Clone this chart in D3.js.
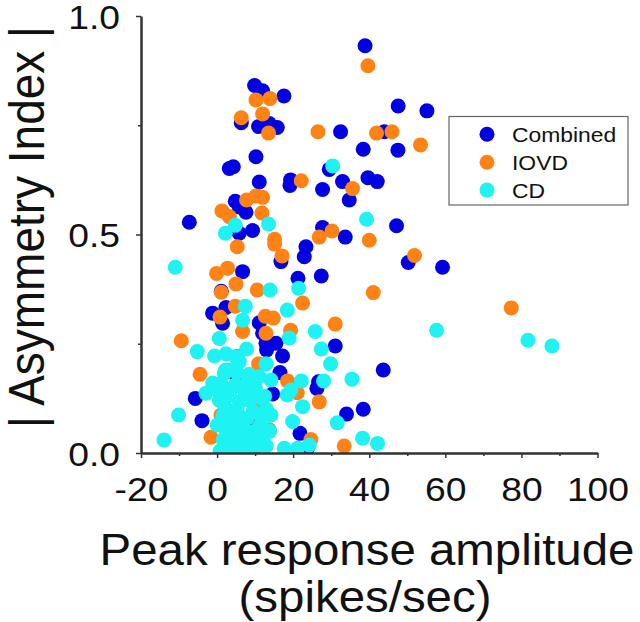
<!DOCTYPE html>
<html><head><meta charset="utf-8">
<script src="https://cdn.jsdelivr.net/npm/d3@7"></script>
<style>body{margin:0;background:#fff}svg{display:block}text{font-family:"Liberation Sans",Arial,sans-serif;fill:#111}</style>
</head><body>
<svg id="c" width="640" height="622"></svg>
<script>
const seriesNames = ["Combined", "IOVD", "CD"];
const seriesColors = ["#0000e0", "#ff8214", "#1ef2f2"];
const xTicks = [-20, 0, 20, 40, 60, 80, 100];
const xMinorTicks = [-10, 10, 30, 50, 70, 90];
const yTicks = [0.0, 0.5, 1.0];
const yMinorTicks = [0.25, 0.75];

const combinedX = [38.9,9.86,11.96,17.58,6.36,10.9,13.72,15.82,32.46,38.42,10.22,3.21,4.26,29.49,39.66,42.1,11.09,19.32,19.16,27.73,32.98,34.74,4.78,7.6,-7.3,9.33,27.73,33.69,47.6,55.16,43.94,47.54,47.17,5.83,23.36,22.92,16.79,6.7,21.26,27.39,1.1,2.34,-1.18,1.45,11.09,12.85,15.48,13.01,31.06,17.21,5.23,43.68,16.53,26.68,26.25,14.59,-5.73,38.42,34.03,-3.97,10.22,21.79,50.25,59.26,1.9,4.97,23.7,5.83,11.96];
const combinedY = [0.932,0.841,0.829,0.817,0.756,0.747,0.754,0.745,0.735,0.695,0.678,0.651,0.655,0.649,0.630,0.621,0.620,0.625,0.612,0.603,0.621,0.579,0.576,0.551,0.528,0.509,0.516,0.494,0.794,0.783,0.735,0.693,0.520,0.503,0.472,0.449,0.438,0.415,0.400,0.405,0.37,0.333,0.320,0.297,0.298,0.251,0.251,0.236,0.245,0.222,0.220,0.190,0.184,0.163,0.148,0.135,0.125,0.100,0.089,0.074,0.060,0.045,0.436,0.425,0.087,0.178,0.011,0.563,0.274];

const iovdX = [39.66,10.22,13.9,11.96,6.36,13.53,26.52,41.92,45.97,53.48,22.13,35.61,7.75,10.22,11.96,1.29,11.8,3.21,30.2,26.86,15.11,40.0,5.31,15.11,17.06,51.9,-0.13,2.76,4.97,1.1,10.56,41.05,22.47,4.78,0.76,12.67,14.77,31.06,6.7,12.85,19.32,-9.41,77.33,10.91,-4.49,18.53,21.08,26.86,10.22,-1.6,24.68,33.43,1.02,10.64,13.72,1.9];
const iovdY = [0.886,0.808,0.811,0.776,0.767,0.732,0.735,0.732,0.735,0.705,0.623,0.605,0.579,0.588,0.585,0.554,0.549,0.541,0.508,0.494,0.489,0.487,0.472,0.478,0.451,0.452,0.411,0.423,0.387,0.368,0.373,0.367,0.343,0.336,0.311,0.313,0.309,0.295,0.278,0.274,0.281,0.257,0.332,0.204,0.180,0.165,0.138,0.117,0.091,0.036,0.031,0.016,0.087,0.102,0.053,0.014];

const cdX = [30.39,39.29,4.78,13.53,2.16,-10.99,13.9,21.42,18.45,7.41,6.7,25.81,0.58,57.69,81.71,88.02,7.75,27.39,-5.2,-0.66,2.34,4.97,12.85,29.83,5.83,1.9,3.65,14.17,22.13,27.99,35.45,8.02,-0.74,-1.18,1.02,-2.92,7.15,19.42,18.45,22.47,-10.12,19.84,31.59,14.17,24.23,38.24,42.18,-13.96,21.16,17.66,18.97,0.58,3.21,5.83,8.46,11.62,2.68,5.31,7.94,11.88,3.73,6.36,8.99,12.14,1.63,4.78,7.41,10.04,12.93,0.05,4.78,10.04,3.73,6.89,10.56,1.9,2.2,5.2,8.5,11.0,0.5,3.5,9.6,12.5,1.5,4.0,6.6,9.5,13.0,2.5,5.0,8.0,11.0,0.8,13.8];
const cdY = [0.657,0.535,0.521,0.524,0.503,0.425,0.373,0.377,0.327,0.336,0.304,0.278,0.262,0.281,0.258,0.245,0.238,0.238,0.232,0.222,0.227,0.220,0.204,0.204,0.209,0.182,0.190,0.167,0.165,0.165,0.169,0.167,0.152,0.160,0.160,0.137,0.144,0.144,0.133,0.106,0.087,0.072,0.069,0.087,0.018,0.034,0.022,0.030,0.011,0.011,0.263,0.121,0.133,0.117,0.121,0.126,0.098,0.094,0.080,0.076,0.064,0.053,0.048,0.039,0.030,0.016,0.023,0.011,0.016,0.064,0.156,0.149,0.007,0.002,0.034,0.110,0.19,0.185,0.18,0.175,0.14,0.145,0.135,0.13,0.085,0.075,0.07,0.095,0.10,0.045,0.04,0.03,0.06,0.005,0.05];

const series = [
  {name: seriesNames[0], color: seriesColors[0], xs: combinedX, ys: combinedY},
  {name: seriesNames[1], color: seriesColors[1], xs: iovdX, ys: iovdY},
  {name: seriesNames[2], color: seriesColors[2], xs: cdX, ys: cdY}
];

const svg = d3.select("#c");
const x = d3.scaleLinear().domain([-20, 100]).range([141, 597.5]);
const y = d3.scaleLinear().domain([0, 1]).range([453, 16]);
const R = 7.5;

svg.append("defs").append("clipPath").attr("id", "clip")
  .append("rect").attr("x", 100).attr("y", 0).attr("width", 540).attr("height", 453);

const gp = svg.append("g").attr("clip-path", "url(#clip)");
series.forEach(s => {
  gp.append("g").selectAll("circle").data(s.xs.map((v, i) => [v, s.ys[i]]))
    .join("circle")
    .attr("cx", d => x(d[0])).attr("cy", d => y(d[1])).attr("r", R)
    .attr("fill", s.color);
});

const axisColor = "#333";
svg.append("g").attr("transform", "translate(0,453)")
  .call(d3.axisBottom(x).tickValues(xMinorTicks).tickSize(3).tickFormat(""))
  .call(g => g.select(".domain").remove())
  .call(g => g.selectAll("line").attr("stroke", axisColor).attr("stroke-width", 1.5));
svg.append("g").attr("transform", "translate(141,0)")
  .call(d3.axisLeft(y).tickValues(yMinorTicks).tickSize(3).tickFormat(""))
  .call(g => g.select(".domain").remove())
  .call(g => g.selectAll("line").attr("stroke", axisColor).attr("stroke-width", 1.5));

const xa = svg.append("g").attr("transform", "translate(0,453)")
  .call(d3.axisBottom(x).tickValues(xTicks).tickSize(5).tickSizeOuter(0).tickFormat(d => String(d)));
xa.select(".domain").attr("stroke", axisColor).attr("stroke-width", 2.5);
xa.selectAll("line").attr("stroke", axisColor).attr("stroke-width", 1.5);
xa.selectAll("text").attr("y", 48.5).attr("dy", 0).attr("font-size", 33)
  .attr("font-family", "Liberation Sans, Arial, sans-serif").attr("fill", "#111")
  .attr("transform", "scale(1.13,1)");

const ya = svg.append("g").attr("transform", "translate(141,0)")
  .call(d3.axisLeft(y).tickValues(yTicks).tickSize(5).tickSizeOuter(0).tickFormat(d3.format(".1f")));
ya.select(".domain").attr("stroke", axisColor).attr("stroke-width", 2.5);
ya.selectAll("line").attr("stroke", axisColor).attr("stroke-width", 1.5);
ya.selectAll("text").attr("x", -18.5).attr("y", 12).attr("dy", 0).attr("font-size", 33)
  .attr("font-family", "Liberation Sans, Arial, sans-serif").attr("fill", "#111")
  .attr("transform", "scale(1.13,1)");

svg.append("text").attr("transform", "translate(367,565) scale(1.09,1)")
  .attr("text-anchor", "middle").attr("font-size", 43.5).text("Peak response amplitude");
svg.append("text").attr("transform", "translate(365,612) scale(1.09,1)")
  .attr("text-anchor", "middle").attr("font-size", 43.5).text("(spikes/sec)");
svg.append("text").attr("transform", "translate(44,227) scale(1.08,1) rotate(-90)")
  .attr("text-anchor", "middle").attr("font-size", 46).text("| Asymmetry Index |");

const lg = svg.append("g");
lg.append("rect").attr("x", 449).attr("y", 116.5).attr("width", 179).attr("height", 88.5)
  .attr("fill", "#fff").attr("stroke", "#666").attr("stroke-width", 1.2);
series.forEach((s, i) => {
  const cy = 134.3 + i * 27.9;
  lg.append("circle").attr("cx", 487).attr("cy", cy).attr("r", R).attr("fill", s.color);
  lg.append("text").attr("transform", `translate(512,${cy + 7.5}) scale(1.09,1)`)
    .attr("font-size", 21).text(s.name);
});
</script>
</body></html>
